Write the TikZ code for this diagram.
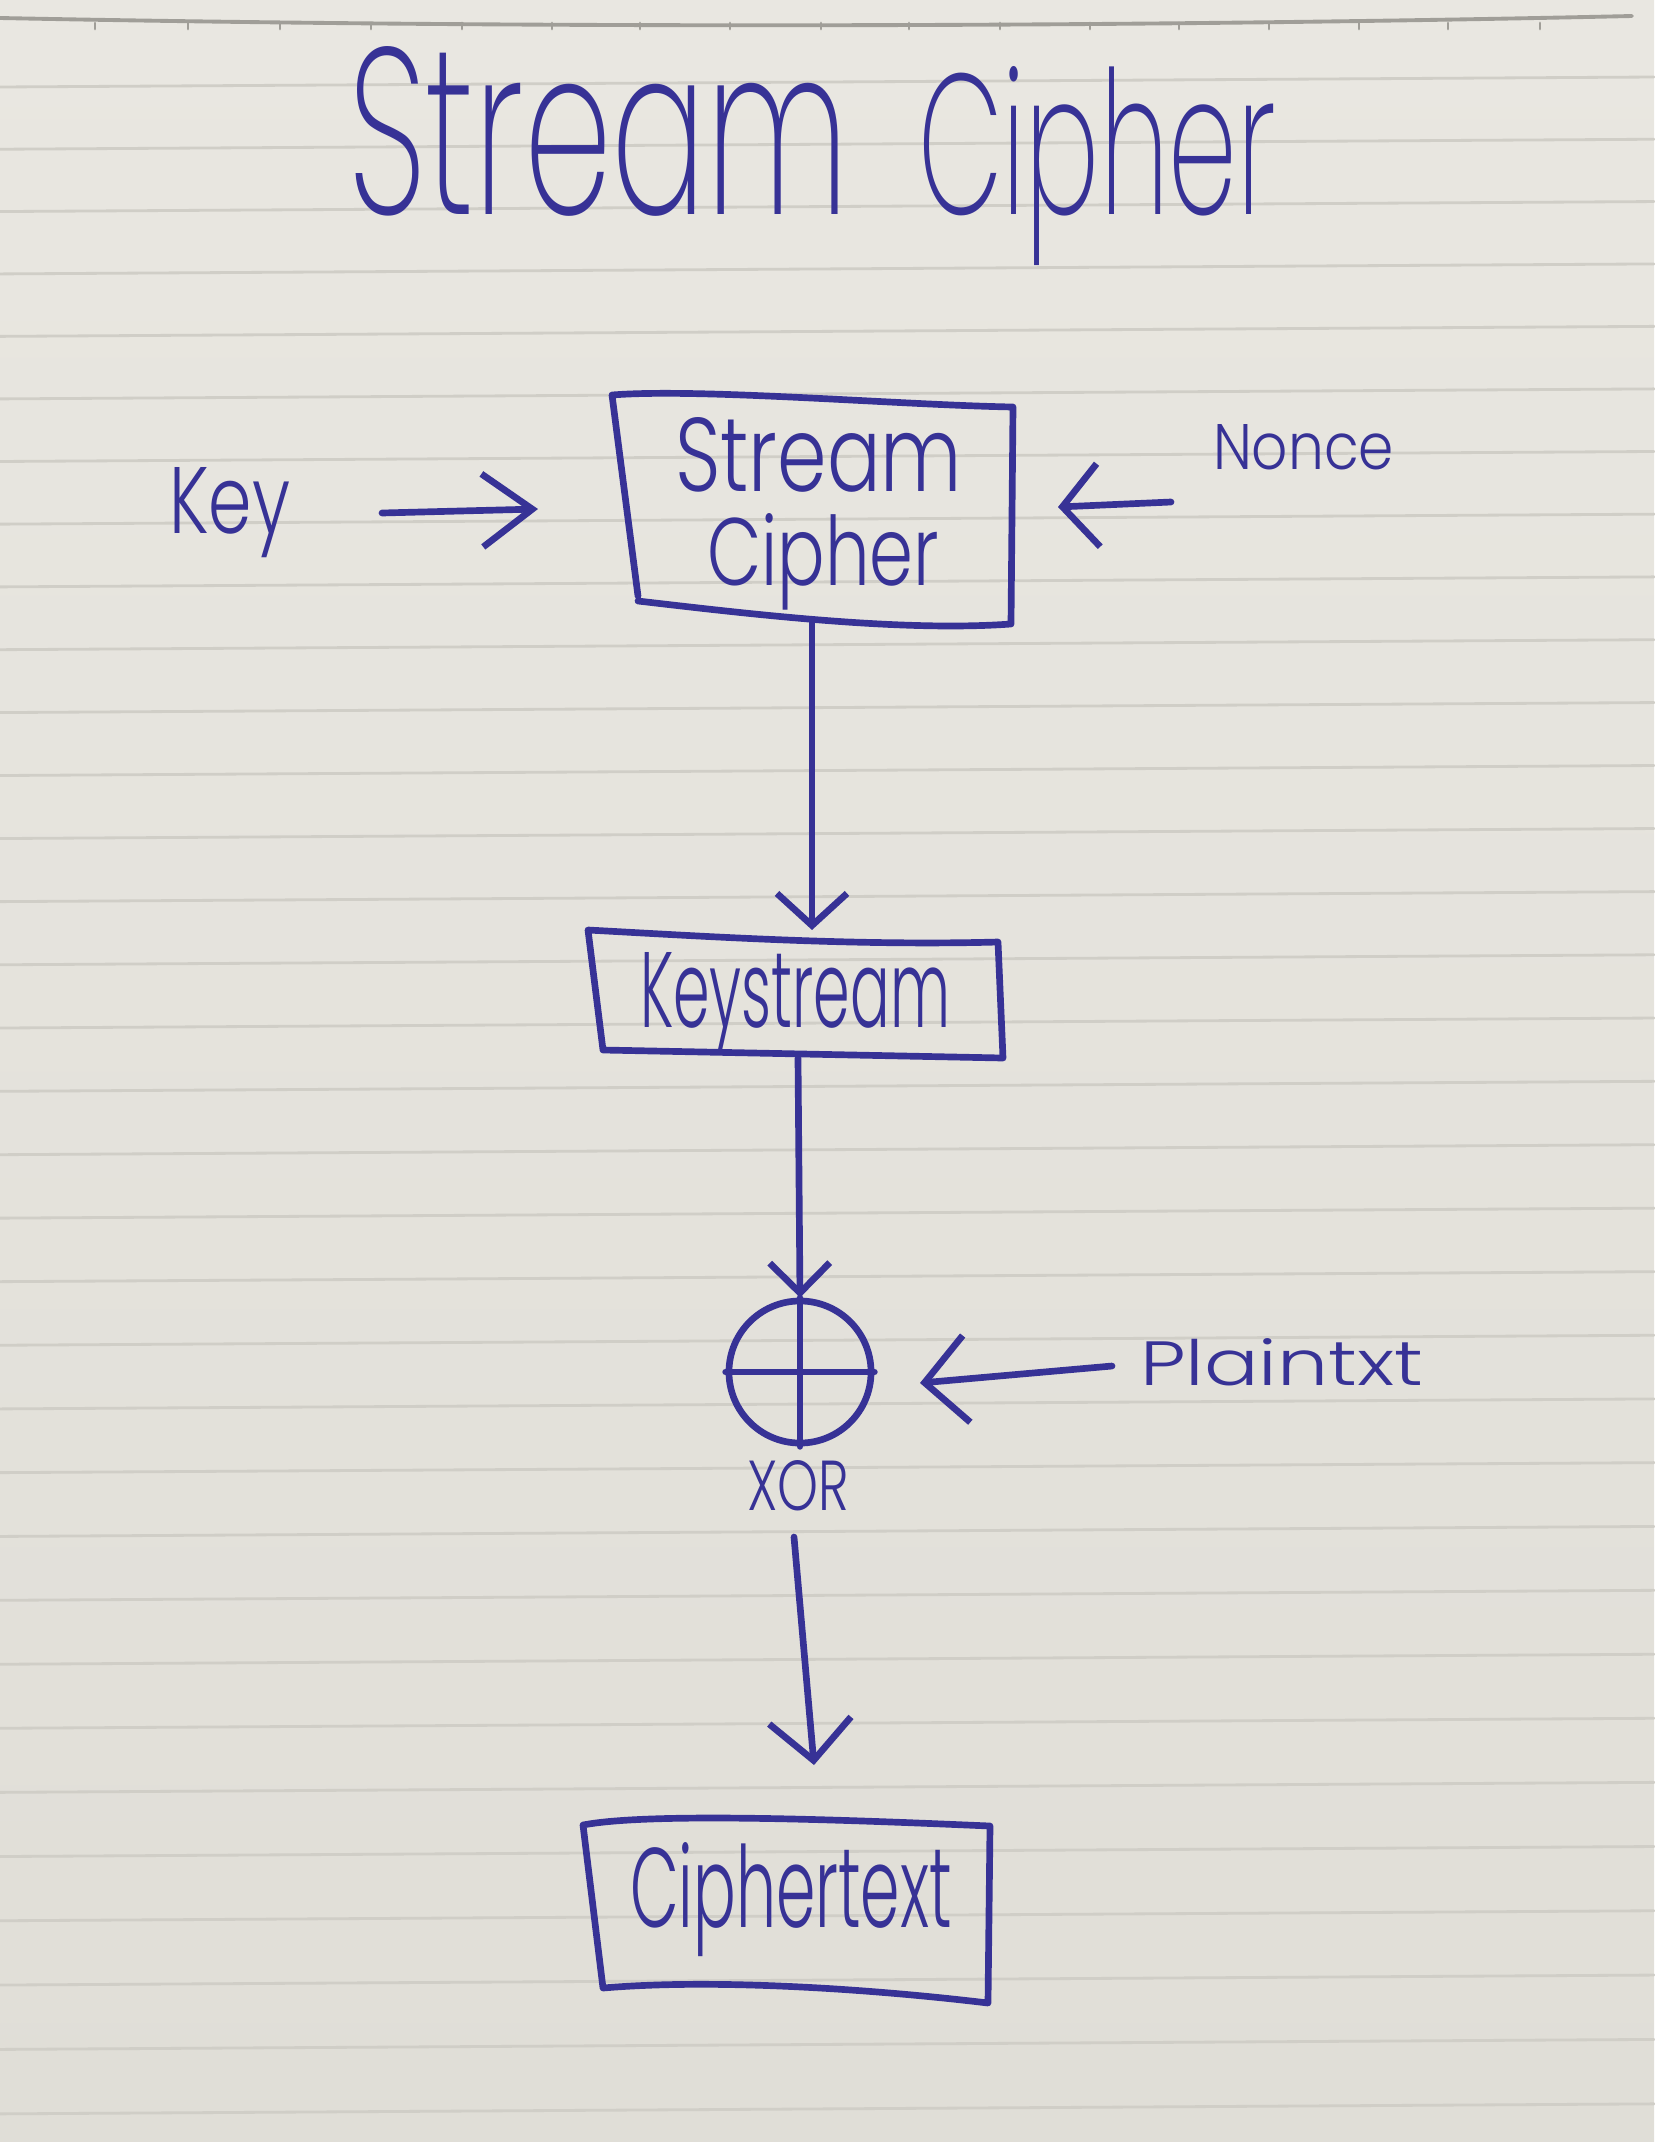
\documentclass[tikz,border=0pt]{standalone}
\usepackage{fontspec}
\usepackage{graphicx}
\usetikzlibrary{arrows.meta}
\IfFontExistsTF{Poppins Light}{\newfontfamily\handfont{Poppins Light}}{\newfontfamily\handfont{Poppins}}
\IfFontExistsTF{Poppins ExtraLight}{\newfontfamily\titlefont{Poppins ExtraLight}}{\let\titlefont\handfont}
\newlength\pxu
\setlength\pxu{0.01cm}
\newcommand\hw[3]{\resizebox{#1\pxu}{#2\pxu}{#3}}
\definecolor{ink}{RGB}{55,50,150}
\definecolor{papertop}{RGB}{233,231,225}
\definecolor{paperbot}{RGB}{224,222,215}
\definecolor{rulec}{RGB}{208,206,199}
\definecolor{edgec}{RGB}{160,158,152}
\begin{document}
\begin{tikzpicture}[x=0.01cm,y=-0.01cm,line cap=round,line join=round,
  pen/.style={draw=ink,line width=1.9pt},
  lbl/.style={inner sep=0pt,outer sep=0pt,anchor=base west,text=ink,font=\handfont},
  area/.style={draw=none,inner sep=0pt,outer sep=0pt,rectangle},
  hd/.style 2 args={pen,-{Straight Barb[length=#1,width=#2]}}]
% paper
\shade[top color=papertop,bottom color=paperbot] (0,0) rectangle (1654,2142);
\useasboundingbox (0,0) rectangle (1654,2142);
\foreach \k in {0,...,32}{
  \pgfmathsetmacro\yy{82+62.2*\k+0.0356*\k*\k}
  \draw[rulec,line width=0.8pt] (0,\yy+5) -- (1654,\yy-5);
}
\draw[edgec,line width=1.1pt] (0,18) .. controls (500,28) and (1100,28) .. (1632,16);
\foreach \t in {95,188,280,371,462,552,640,730,821,909,1000,1090,1179,1269,1359,1448,1540}{
  \draw[edgec,line width=0.8pt] (\t,23) -- (\t,29);
}
% title
\node[lbl,font=\titlefont] (title1) at (348,214) {\hw{501}{168}{Stream}};
\node[lbl,font=\titlefont] (title2) at (918,214) {\hw{358}{148}{Cipher}};
% stream cipher box
\node[area,minimum width=4.0cm,minimum height=2.25cm] (scbox) at (812,508) {};
\draw[pen] (638,596) -- (612,395) .. controls (700,388) and (900,405) .. (1013,407)
  -- (1011,624) .. controls (900,632) and (750,614) .. (638,601);
\node[lbl] (sc1) at (675,491) {\hw{287}{74}{Stream}};
\node[lbl] (sc2) at (707,585) {\hw{232}{72}{Cipher}};
% key and nonce
\node[lbl] (key) at (169,533) {\hw{121}{66}{Key}};
\coordinate (keya) at (382,513);
\coordinate (keyb) at (538,509);
\draw[hd={0.5cm}{0.73cm}] (keya) -- (keyb);
\node[lbl] (nonce) at (1213,469) {\hw{181}{45}{Nonce}};
\coordinate (nona) at (1171,502);
\coordinate (nonb) at (1058,507);
\draw[hd={0.36cm}{0.83cm}] (nona) -- (nonb);
% keystream box
\node[area,minimum width=4.2cm,minimum height=1.28cm] (ksbox) at (798,994) {};
\draw[pen] (588,930) .. controls (700,936) and (850,946) .. (998,942) -- (1003,1058)
  -- (603,1050) -- cycle;
\node[lbl] (kst) at (640,1027) {\hw{310}{75}{Keystream}};
\draw[hd={0.32cm}{0.7cm}] (scbox.south) -- (scbox.south |- ksbox.north);
% xor
\node[circle,draw=ink,line width=1.9pt,minimum size=1.42cm,inner sep=0pt] (xor) at (800,1372) {};
\draw[pen] (xor.north) -- (xor.south);
\draw[pen] (xor.west) -- (xor.east);
\draw[hd={0.3cm}{0.6cm}] (ksbox.south) -- (xor.north);
\node[lbl] (xorl) at (747,1510) {\hw{102}{50}{XOR}};
% plaintext
\node[lbl] (pt) at (1140,1385) {\hw{283}{47}{Plaintxt}};
\coordinate (pta) at (1112,1366);
\coordinate (ptb) at (920,1383);
\draw[hd={0.42cm}{0.87cm}] (pta) -- (ptb);
% ciphertext
\coordinate (cta) at (794,1537);
\coordinate (ctb) at (814,1765);
\draw[hd={0.4cm}{0.82cm}] (cta) -- (ctb);
\draw[pen] (583,1825) .. controls (650,1812) and (850,1820) .. (990,1826) -- (988,2003)
  .. controls (880,1990) and (720,1978) .. (603,1988) -- cycle;
\node[lbl] (ctl) at (630,1927) {\hw{322}{85}{Ciphertext}};
\end{tikzpicture}
\end{document}
